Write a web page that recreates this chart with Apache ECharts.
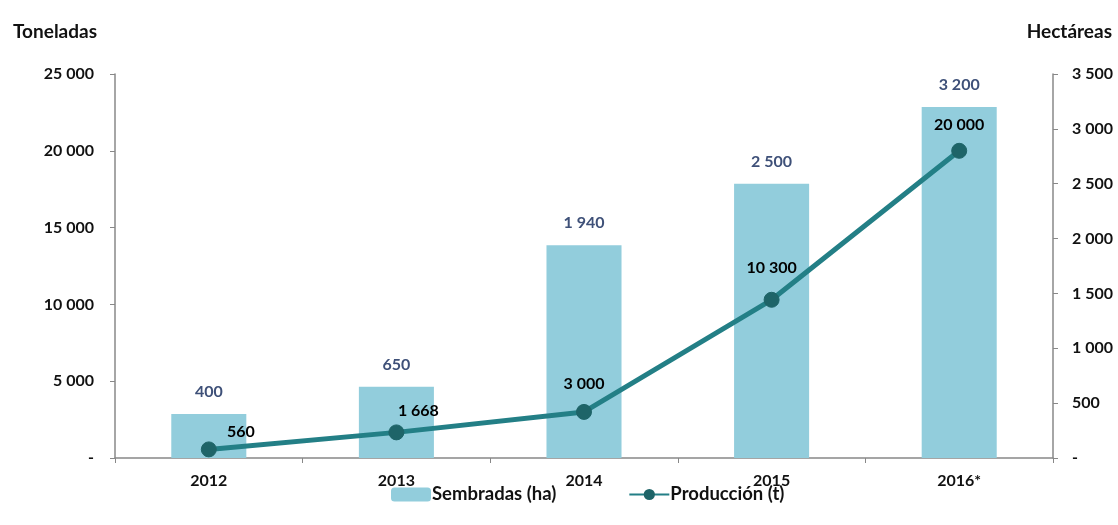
<!DOCTYPE html>
<html>
<head>
<meta charset="utf-8">
<script src="https://cdn.jsdelivr.net/npm/echarts@6/dist/echarts.min.js"></script>
<style>html,body{margin:0;padding:0;background:#fff}#c{width:1118px;height:525px}</style>
</head>
<body>
<div id="c"></div>
<script>
const categories = ['2012', '2013', '2014', '2015', '2016*'];
const sembradasHa = [400, 650, 1940, 2500, 3200];
const produccionT = [560, 1668, 3000, 10300, 20000];
const seriesNames = ['Sembradas (ha)', 'Producción (t)'];
const axisTitles = ['Toneladas', 'Hectáreas'];

// label placement for line values (layout only)
const lineLabelOffsets = [[32, 10], [22, 6], [0, 0], [0, -4], [0, 2]];

const FONT = 'Lato, "Open Sans", sans-serif';
function fmt(v) {
  if (v === 0) return '-';
  return String(v).replace(/\B(?=(\d{3})+(?!\d))/g, ' ');
}

const chart = echarts.init(document.getElementById('c'), null, {renderer: 'canvas'});
chart.setOption({
  backgroundColor: '#ffffff',
  animation: false,
  textStyle: {fontFamily: FONT},
  title: [
    {text: axisTitles[0], left: 8, top: 17, textStyle: {fontFamily: FONT, fontSize: 19, fontWeight: 'bold', color: '#111'}},
    {text: axisTitles[1], right: 1, top: 17, textStyle: {fontFamily: FONT, fontSize: 19, fontWeight: 'bold', color: '#111'}}
  ],
  grid: {left: 115, right: 65, top: 74, bottom: 67},
  legend: {
    left: 386, top: 480, itemGap: 72, itemWidth: 40, itemHeight: 14,
    textStyle: {fontFamily: FONT, fontSize: 18.5, fontWeight: 'bold', color: '#111', padding: [0, 0, 0, -4]},
    data: seriesNames
  },
  xAxis: {
    type: 'category', data: categories,
    axisLine: {lineStyle: {color: '#888', width: 1.5}},
    axisTick: {show: true, length: 5, lineStyle: {color: '#888'}},
    axisLabel: {fontFamily: FONT, fontSize: 16, fontWeight: 'bold', color: '#111', margin: 15}
  },
  yAxis: [
    {
      type: 'value', min: 0, max: 25000, interval: 5000, position: 'left',
      splitLine: {show: false},
      axisLine: {show: true, lineStyle: {color: '#888', width: 1.5}},
      axisTick: {show: true, length: 5, lineStyle: {color: '#888'}},
      axisLabel: {fontFamily: FONT, fontSize: 16, fontWeight: 'bold', color: '#111', margin: 21, formatter: fmt}
    },
    {
      type: 'value', min: 0, max: 3500, interval: 500, position: 'right',
      splitLine: {show: false},
      axisLine: {show: true, lineStyle: {color: '#888', width: 1.5}},
      axisTick: {show: true, length: 5, lineStyle: {color: '#888'}},
      axisLabel: {fontFamily: FONT, fontSize: 16, fontWeight: 'bold', color: '#111', margin: 19, formatter: fmt}
    }
  ],
  series: [
    {
      name: seriesNames[0], type: 'bar', yAxisIndex: 1, barWidth: '40%',
      data: sembradasHa,
      itemStyle: {color: '#92CDDC'},
      label: {show: true, position: 'top', distance: 14, formatter: p => fmt(p.value),
        fontFamily: FONT, fontSize: 16, fontWeight: 'bold', color: '#3E5078'}
    },
    {
      name: seriesNames[1], type: 'line', yAxisIndex: 0,
      data: produccionT.map((v, i) => ({
        value: v,
        label: {offset: lineLabelOffsets[i]}
      })),
      lineStyle: {color: '#237F86', width: 5},
      itemStyle: {color: '#1E6468', borderColor: '#1E6468'},
      symbol: 'circle', symbolSize: 15,
      label: {show: true, position: 'top', distance: 12, formatter: p => fmt(p.value),
        fontFamily: FONT, fontSize: 16, fontWeight: 'bold', color: '#000'}
    }
  ]
});
</script>
</body>
</html>
